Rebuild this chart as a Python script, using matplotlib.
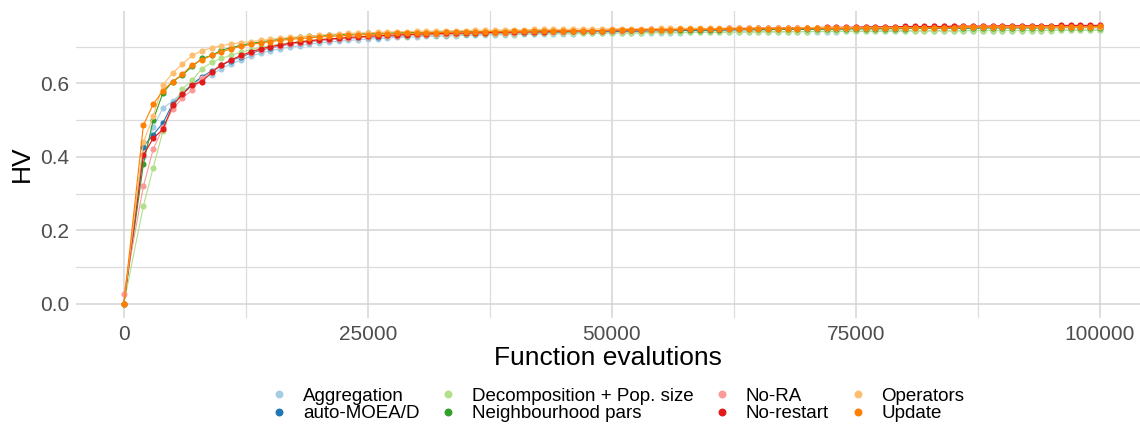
import matplotlib.pyplot as plt
from matplotlib.ticker import MultipleLocator

# function evaluations at which HV was recorded
evals = [0] + list(range(2000, 100001, 1000))

aggregation = [
    0.000, 0.400, 0.480, 0.533, 0.551, 0.575, 0.598, 0.612, 0.624, 0.640,
    0.653, 0.664, 0.674, 0.682, 0.689, 0.694, 0.699, 0.703, 0.707, 0.710,
    0.713, 0.715, 0.717, 0.719, 0.721, 0.722, 0.724, 0.725, 0.726, 0.727,
    0.728, 0.729, 0.729, 0.730, 0.731, 0.731, 0.732, 0.732, 0.733, 0.733,
    0.734, 0.734, 0.734, 0.735, 0.735, 0.735, 0.736, 0.736, 0.736, 0.737,
    0.737, 0.737, 0.737, 0.738, 0.738, 0.738, 0.738, 0.739, 0.739, 0.739,
    0.739, 0.739, 0.740, 0.740, 0.740, 0.740, 0.740, 0.741, 0.741, 0.741,
    0.741, 0.741, 0.741, 0.742, 0.742, 0.742, 0.742, 0.742, 0.742, 0.743,
    0.743, 0.743, 0.743, 0.743, 0.743, 0.743, 0.744, 0.744, 0.744, 0.744,
    0.744, 0.744, 0.744, 0.744, 0.745, 0.745, 0.745, 0.745, 0.745, 0.745,
]
auto_moead = [
    0.000, 0.428, 0.460, 0.492, 0.545, 0.572, 0.598, 0.618, 0.634, 0.650,
    0.662, 0.673, 0.682, 0.690, 0.697, 0.702, 0.707, 0.711, 0.714, 0.717,
    0.719, 0.721, 0.723, 0.725, 0.726, 0.727, 0.728, 0.729, 0.730, 0.731,
    0.732, 0.733, 0.733, 0.734, 0.735, 0.735, 0.736, 0.736, 0.737, 0.737,
    0.738, 0.738, 0.739, 0.739, 0.739, 0.740, 0.740, 0.741, 0.741, 0.741,
    0.742, 0.742, 0.742, 0.743, 0.743, 0.743, 0.744, 0.744, 0.744, 0.745,
    0.745, 0.745, 0.746, 0.746, 0.746, 0.746, 0.747, 0.747, 0.747, 0.747,
    0.748, 0.748, 0.748, 0.748, 0.749, 0.749, 0.749, 0.749, 0.750, 0.750,
    0.750, 0.750, 0.750, 0.751, 0.751, 0.751, 0.751, 0.751, 0.752, 0.752,
    0.752, 0.752, 0.752, 0.752, 0.753, 0.753, 0.753, 0.753, 0.753, 0.754,
]
decomp_pop = [
    0.000, 0.266, 0.370, 0.470, 0.535, 0.585, 0.608, 0.640, 0.657, 0.668,
    0.677, 0.685, 0.692, 0.698, 0.703, 0.707, 0.711, 0.714, 0.717, 0.719,
    0.721, 0.723, 0.724, 0.726, 0.727, 0.728, 0.729, 0.730, 0.730, 0.731,
    0.732, 0.732, 0.733, 0.733, 0.734, 0.734, 0.734, 0.735, 0.735, 0.735,
    0.736, 0.736, 0.736, 0.736, 0.737, 0.737, 0.737, 0.737, 0.738, 0.738,
    0.738, 0.738, 0.738, 0.739, 0.739, 0.739, 0.739, 0.739, 0.740, 0.740,
    0.740, 0.740, 0.740, 0.740, 0.741, 0.741, 0.741, 0.741, 0.741, 0.741,
    0.742, 0.742, 0.742, 0.742, 0.742, 0.742, 0.742, 0.743, 0.743, 0.743,
    0.743, 0.743, 0.743, 0.743, 0.743, 0.744, 0.744, 0.744, 0.744, 0.744,
    0.744, 0.744, 0.744, 0.744, 0.744, 0.745, 0.745, 0.745, 0.745, 0.745,
]
neighbourhood = [
    0.000, 0.380, 0.500, 0.574, 0.605, 0.623, 0.646, 0.668, 0.676, 0.691,
    0.697, 0.704, 0.709, 0.713, 0.717, 0.720, 0.723, 0.726, 0.728, 0.730,
    0.731, 0.733, 0.734, 0.735, 0.736, 0.737, 0.737, 0.738, 0.738, 0.739,
    0.739, 0.740, 0.740, 0.740, 0.741, 0.741, 0.741, 0.742, 0.742, 0.742,
    0.742, 0.743, 0.743, 0.743, 0.743, 0.744, 0.744, 0.744, 0.744, 0.744,
    0.745, 0.745, 0.745, 0.745, 0.745, 0.746, 0.746, 0.746, 0.746, 0.746,
    0.746, 0.747, 0.747, 0.747, 0.747, 0.747, 0.747, 0.748, 0.748, 0.748,
    0.748, 0.748, 0.748, 0.749, 0.749, 0.749, 0.749, 0.749, 0.749, 0.749,
    0.750, 0.750, 0.750, 0.750, 0.750, 0.750, 0.750, 0.751, 0.751, 0.751,
    0.751, 0.751, 0.751, 0.751, 0.751, 0.752, 0.752, 0.752, 0.752, 0.752,
]
no_ra = [
    0.027, 0.320, 0.420, 0.480, 0.530, 0.560, 0.582, 0.614, 0.632, 0.651,
    0.664, 0.675, 0.684, 0.692, 0.698, 0.703, 0.707, 0.711, 0.714, 0.717,
    0.719, 0.721, 0.723, 0.725, 0.726, 0.728, 0.729, 0.730, 0.731, 0.732,
    0.733, 0.734, 0.734, 0.735, 0.736, 0.736, 0.737, 0.737, 0.738, 0.738,
    0.739, 0.740, 0.740, 0.741, 0.741, 0.742, 0.742, 0.743, 0.743, 0.744,
    0.744, 0.745, 0.745, 0.746, 0.746, 0.746, 0.747, 0.747, 0.748, 0.748,
    0.748, 0.749, 0.749, 0.749, 0.750, 0.750, 0.750, 0.751, 0.751, 0.751,
    0.752, 0.752, 0.752, 0.752, 0.753, 0.753, 0.753, 0.753, 0.754, 0.754,
    0.754, 0.754, 0.755, 0.755, 0.755, 0.755, 0.755, 0.756, 0.756, 0.756,
    0.756, 0.756, 0.756, 0.757, 0.757, 0.757, 0.757, 0.757, 0.757, 0.757,
]
no_restart = [
    0.000, 0.405, 0.450, 0.475, 0.540, 0.570, 0.596, 0.605, 0.630, 0.650,
    0.664, 0.676, 0.686, 0.694, 0.700, 0.705, 0.709, 0.713, 0.716, 0.719,
    0.721, 0.723, 0.725, 0.727, 0.728, 0.730, 0.731, 0.732, 0.733, 0.734,
    0.735, 0.736, 0.736, 0.737, 0.737, 0.738, 0.738, 0.739, 0.739, 0.740,
    0.740, 0.741, 0.741, 0.742, 0.742, 0.743, 0.743, 0.744, 0.744, 0.745,
    0.745, 0.746, 0.746, 0.747, 0.747, 0.747, 0.748, 0.748, 0.749, 0.749,
    0.749, 0.750, 0.750, 0.750, 0.751, 0.751, 0.751, 0.752, 0.752, 0.752,
    0.752, 0.753, 0.753, 0.753, 0.753, 0.754, 0.754, 0.754, 0.754, 0.755,
    0.755, 0.755, 0.755, 0.755, 0.756, 0.756, 0.756, 0.756, 0.756, 0.757,
    0.757, 0.757, 0.757, 0.757, 0.757, 0.758, 0.758, 0.758, 0.758, 0.758,
]
operators = [
    0.000, 0.440, 0.510, 0.596, 0.628, 0.653, 0.676, 0.689, 0.697, 0.703,
    0.707, 0.711, 0.714, 0.717, 0.720, 0.723, 0.725, 0.727, 0.729, 0.731,
    0.733, 0.735, 0.736, 0.737, 0.738, 0.739, 0.740, 0.741, 0.741, 0.742,
    0.742, 0.743, 0.743, 0.744, 0.744, 0.745, 0.745, 0.745, 0.746, 0.746,
    0.746, 0.747, 0.747, 0.747, 0.747, 0.748, 0.748, 0.748, 0.748, 0.749,
    0.749, 0.749, 0.749, 0.749, 0.750, 0.750, 0.750, 0.750, 0.750, 0.750,
    0.750, 0.751, 0.751, 0.751, 0.751, 0.751, 0.751, 0.751, 0.751, 0.752,
    0.752, 0.752, 0.752, 0.752, 0.752, 0.752, 0.752, 0.752, 0.752, 0.752,
    0.752, 0.752, 0.752, 0.752, 0.752, 0.753, 0.753, 0.753, 0.753, 0.753,
    0.753, 0.753, 0.753, 0.753, 0.753, 0.753, 0.753, 0.753, 0.753, 0.753,
]
update = [
    0.000, 0.486, 0.543, 0.580, 0.605, 0.625, 0.650, 0.665, 0.676, 0.686,
    0.694, 0.701, 0.706, 0.710, 0.714, 0.717, 0.720, 0.722, 0.724, 0.726,
    0.728, 0.729, 0.731, 0.732, 0.733, 0.734, 0.735, 0.736, 0.737, 0.737,
    0.738, 0.738, 0.739, 0.739, 0.740, 0.740, 0.741, 0.741, 0.741, 0.742,
    0.742, 0.742, 0.743, 0.743, 0.743, 0.744, 0.744, 0.744, 0.744, 0.745,
    0.745, 0.745, 0.746, 0.746, 0.746, 0.746, 0.747, 0.747, 0.747, 0.747,
    0.748, 0.748, 0.748, 0.748, 0.749, 0.749, 0.749, 0.749, 0.749, 0.750,
    0.750, 0.750, 0.750, 0.750, 0.751, 0.751, 0.751, 0.751, 0.751, 0.751,
    0.752, 0.752, 0.752, 0.752, 0.752, 0.753, 0.753, 0.753, 0.753, 0.753,
    0.753, 0.753, 0.754, 0.754, 0.754, 0.754, 0.754, 0.754, 0.754, 0.755,
]

series = [
    ("Aggregation", aggregation, "#A6CEE3"),
    ("auto-MOEA/D", auto_moead, "#1F78B4"),
    ("Decomposition + Pop. size", decomp_pop, "#B2DF8A"),
    ("Neighbourhood pars", neighbourhood, "#33A02C"),
    ("No-RA", no_ra, "#FB9A99"),
    ("No-restart", no_restart, "#E31A1C"),
    ("Operators", operators, "#FDBF6F"),
    ("Update", update, "#FF7F00"),
]

plt.rcParams["font.family"] = ["Liberation Sans", "DejaVu Sans"]

fig = plt.figure(figsize=(11.4, 4.28), dpi=100)
ax = fig.add_axes([0.0667, 0.258, 0.9333, 0.717])

for label, vals, color in series:
    ax.plot(evals, vals, color=color, lw=0.8, marker="o", markersize=4.4,
            markeredgewidth=0, label=label)

ax.set_xlim(-4900, 104100)
ax.set_ylim(-0.038, 0.798)
ax.xaxis.set_major_locator(MultipleLocator(25000))
ax.xaxis.set_minor_locator(MultipleLocator(12500))
ax.yaxis.set_major_locator(MultipleLocator(0.2))
ax.yaxis.set_minor_locator(MultipleLocator(0.1))
ax.yaxis.set_major_formatter(plt.FuncFormatter(lambda v, p: f"{v:.1f}"))

ax.grid(which="major", color="#D4D4D4", lw=1.1)
ax.grid(which="minor", color="#DCDCDC", lw=0.9)
ax.set_axisbelow(True)
for s in ax.spines.values():
    s.set_visible(False)
ax.tick_params(which="both", length=0)
ax.tick_params(labelsize=15, labelcolor="#4D4D4D", pad=5)

ax.set_xlabel("Function evalutions", fontsize=19, labelpad=2)
ax.set_ylabel("HV", fontsize=19, labelpad=4)

leg = ax.legend(loc="center", bbox_to_anchor=(0.51, -0.285), ncol=4,
                frameon=False, fontsize=13.5, handlelength=0.7, handletextpad=0.9,
                columnspacing=1.2, labelspacing=0.0, markerscale=1.3,
                borderpad=0.0)
for h in leg.legend_handles:
    h.set_linestyle("none")

fig.savefig("out.png", dpi=100)
